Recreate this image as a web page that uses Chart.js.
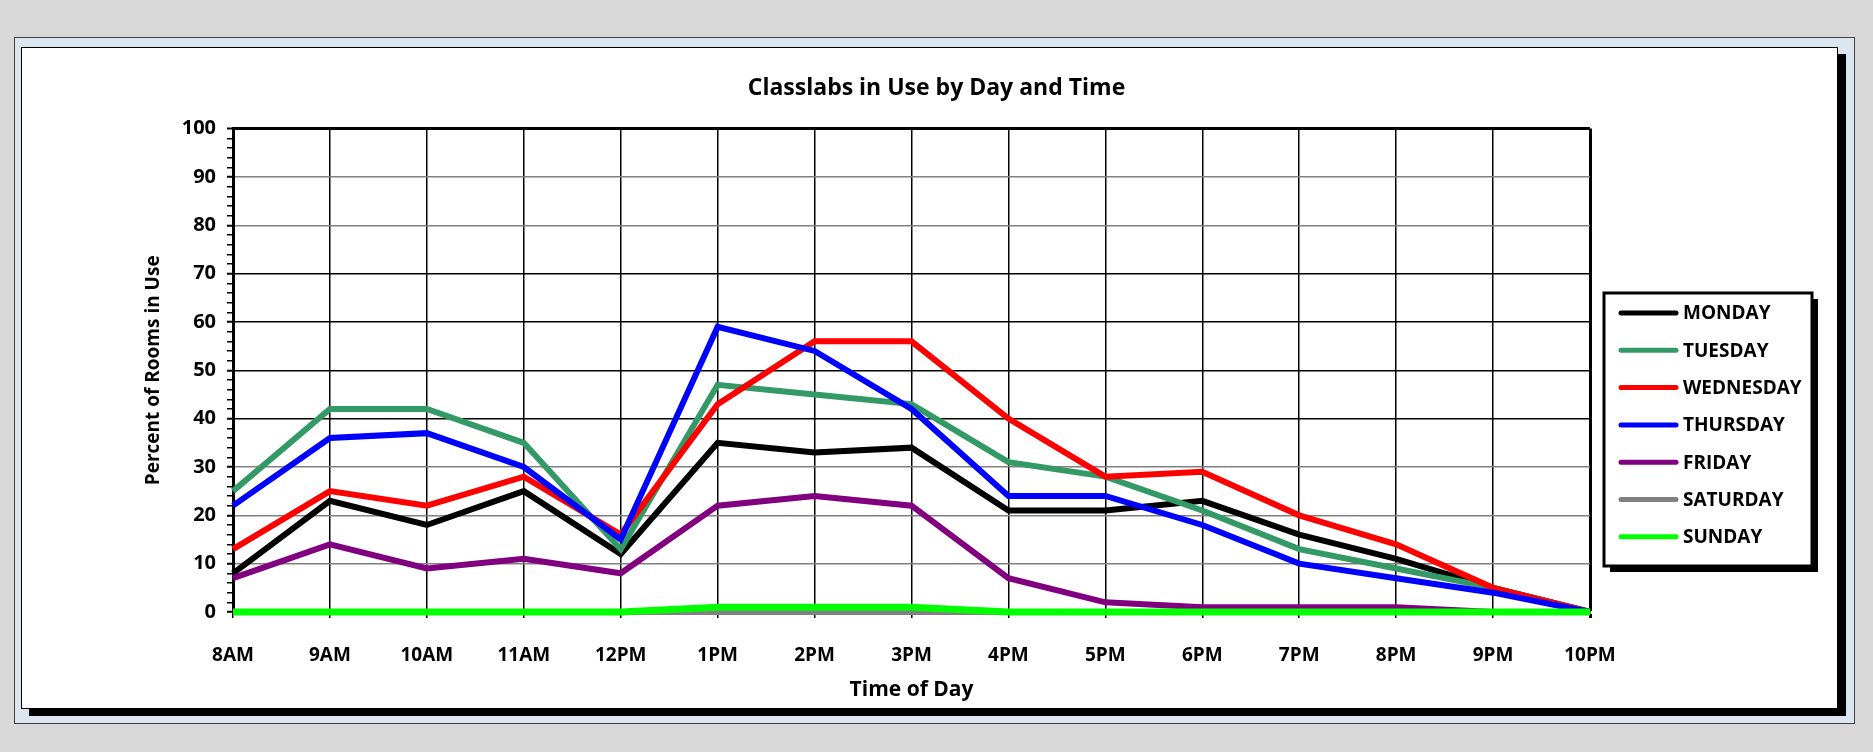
<!DOCTYPE html>
<html>
<head>
<meta charset="utf-8">
<script src="https://cdn.jsdelivr.net/npm/chart.js@4.4.1/dist/chart.umd.min.js"></script>
<style>
  html, body { margin: 0; padding: 0; width: 1873px; height: 752px; background: #d9d9d9; overflow: hidden; }
  #outer { position: absolute; left: 14px; top: 37px; width: 1839px; height: 685px; background: #dce6f0; border: 1px solid #404040; }
  #panel { position: absolute; left: 21px; top: 47px; width: 1815px; height: 660px; background: #fff; border: 1.5px solid #000; box-shadow: 8px 7px 0 #000; }
  #chart { position: absolute; left: 0; top: 0; }
</style>
</head>
<body>
<div id="outer"></div>
<div id="panel"></div>
<canvas id="chart" width="1873" height="752"></canvas>
<script>
var timeLabels = ['8AM', '9AM', '10AM', '11AM', '12PM', '1PM', '2PM', '3PM', '4PM', '5PM', '6PM', '7PM', '8PM', '9PM', '10PM'];
var dayNames = ['MONDAY', 'TUESDAY', 'WEDNESDAY', 'THURSDAY', 'FRIDAY', 'SATURDAY', 'SUNDAY'];
var dayColors = ['#000000', '#339966', '#ff0000', '#0000ff', '#800080', '#808080', '#00ff00'];

var monday    = [8, 23, 18, 25, 12, 35, 33, 34, 21, 21, 23, 16, 11, 5, 0];
var tuesday   = [25, 42, 42, 35, 13, 47, 45, 43, 31, 28, 21, 13, 9, 5, 0];
var wednesday = [13, 25, 22, 28, 16, 43, 56, 56, 40, 28, 29, 20, 14, 5, 0];
var thursday  = [22, 36, 37, 30, 15, 59, 54, 42, 24, 24, 18, 10, 7, 4, 0];
var friday    = [7, 14, 9, 11, 8, 22, 24, 22, 7, 2, 1, 1, 1, 0, 0];
var saturday  = [0, 0, 0, 0, 0, 0, 0, 0, 0, 0, 0, 0, 0, 0, 0];
var sunday    = [0, 0, 0, 0, 0, 1, 1, 1, 0, 0, 0, 0, 0, 0, 0];

var dayValues = [monday, tuesday, wednesday, thursday, friday, saturday, sunday];

Chart.defaults.font.family = "'Open Sans', sans-serif";
Chart.defaults.font.weight = 'bold';
Chart.defaults.color = '#000';

// legend drawn as a boxed panel with a drop shadow, like the original
var legendBox = {
  id: 'legendBox',
  afterDraw: function(chart) {
    var ctx = chart.ctx, a = chart.chartArea;
    var x = a.right + 14, y = 293, w = 208, h = 273;
    ctx.save();
    ctx.fillStyle = '#000';
    ctx.fillRect(x + 6, y + 6, w, h);
    ctx.fillStyle = '#fff';
    ctx.fillRect(x, y, w, h);
    ctx.lineWidth = 3;
    ctx.strokeStyle = '#000';
    ctx.strokeRect(x, y, w, h);
    ctx.font = 'bold 19px "Open Sans"';
    ctx.textBaseline = 'middle';
    ctx.lineCap = 'round';
    chart.data.datasets.forEach(function(ds, i) {
      var cy = y + 20 + i * 37.3;
      ctx.strokeStyle = ds.borderColor;
      ctx.lineWidth = 5;
      ctx.beginPath();
      ctx.moveTo(x + 17, cy);
      ctx.lineTo(x + 72, cy);
      ctx.stroke();
      ctx.fillStyle = '#000';
      ctx.fillText(ds.label, x + 79, cy + 1);
    });
    ctx.restore();
  }
};

var datasets = dayNames.map(function(name, i) {
  return {
    label: name,
    data: dayValues[i],
    borderColor: dayColors[i],
    backgroundColor: dayColors[i],
    borderWidth: i === 6 ? 7 : 6,
    pointRadius: 0,
    tension: 0,
    clip: false,
    order: 6 - i
  };
});

var ctx = document.getElementById('chart').getContext('2d');
var chart = new Chart(ctx, {
  type: 'line',
  data: { labels: timeLabels, datasets: datasets },
  plugins: [legendBox],
  options: {
    responsive: false,
    animation: false,
    layout: { padding: 0 },
    plugins: {
      legend: { display: false },
      tooltip: { enabled: false },
      title: {
        display: true,
        text: 'Classlabs in Use by Day and Time',
        font: { size: 23, weight: 'bold' },
        color: '#000',
        padding: { top: 75, bottom: 26 }
      }
    },
    scales: {
      x: {
        type: 'category',
        offset: false,
        afterFit: function(scale) { scale.height = 140; },
        grid: {
          offset: false,
          color: '#000',
          tickColor: '#000',
          tickLength: 6,
          lineWidth: function(c) { return c.index === timeLabels.length - 1 ? 3 : 1.5; }
        },
        border: { color: '#000', width: 3 },
        ticks: { font: { size: 19, weight: 'bold' }, padding: 26, maxRotation: 0, autoSkip: false },
        title: {
          display: true,
          text: 'Time of Day',
          font: { size: 21, weight: 'bold' },
          padding: { top: 0, bottom: 49 }
        }
      },
      y: {
        min: 0,
        max: 100,
        afterFit: function(scale) { scale.width = 233; },
        grid: {
          color: function(c) {
            var v = c.tick.value;
            if (v % 10 !== 0) return 'rgba(0,0,0,0)';
            return (v >= 40 && v <= 70) || v === 100 ? '#000' : '#808080';
          },
          tickColor: '#000',
          tickLength: 6,
          lineWidth: function(c) { return c.tick.value === 100 ? 3 : 1.5; },
          tickWidth: function(c) { return c.tick.value % 10 === 0 ? 2 : 1.5; }
        },
        border: { color: '#000', width: 3 },
        ticks: {
          stepSize: 2,
          autoSkip: false,
          padding: 11,
          font: { size: 20, weight: 'bold' },
          callback: function(v) { return v % 10 === 0 ? v : ''; }
        },
        title: {
          display: true,
          text: 'Percent of Rooms in Use',
          font: { size: 19, weight: 'bold' },
          padding: { top: 142, bottom: 0 }
        }
      },
      // empty right-hand axis that only reserves the strip where the legend sits
      legendSpace: {
        type: 'linear',
        position: 'right',
        afterFit: function(scale) { scale.width = 283; },
        grid: { display: false, drawTicks: false },
        border: { display: false },
        ticks: { display: false }
      }
    }
  }
});
</script>
</body>
</html>
